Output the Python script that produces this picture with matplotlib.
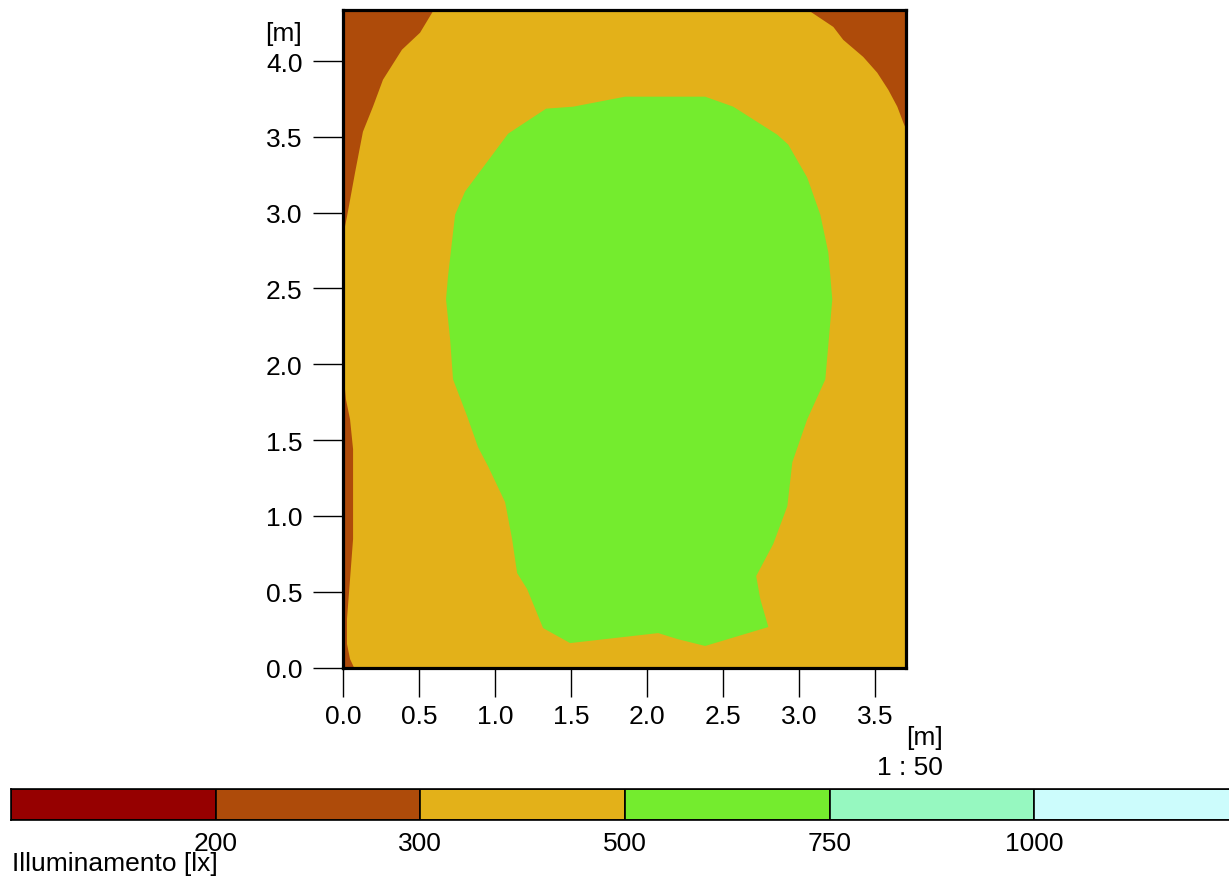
import matplotlib
matplotlib.use("Agg")
import matplotlib.pyplot as plt
import numpy as np

plt.rcParams['font.family'] = ['Liberation Sans', 'DejaVu Sans']

# Room extent [m]
room_w = 3.70
room_h = 4.34

# Isolux classes
level_labels = ["200", "300", "500", "750", "1000"]
level_colors = ["#960000", "#AE4B0A", "#E3B119", "#74EC2E", "#96F8C0", "#CCFCFC"]

# Contour region outlines [m]
# 500-750 lx region
green_x = [1.854, 2.381, 2.566, 2.856, 2.928, 3.053, 3.139, 3.192, 3.218, 3.172,
           3.053, 2.955, 2.922, 2.829, 2.717, 2.744, 2.797, 2.381, 2.197, 2.072,
           1.492, 1.314, 1.209, 1.143, 1.110, 1.064, 0.952, 0.886, 0.814, 0.721,
           0.702, 0.675, 0.688, 0.721, 0.735, 0.800, 1.084, 1.334, 1.512]
green_y = [3.765, 3.765, 3.699, 3.514, 3.449, 3.231, 2.987, 2.737, 2.427, 1.900,
           1.637, 1.354, 1.064, 0.814, 0.603, 0.451, 0.267, 0.142, 0.188, 0.227,
           0.161, 0.260, 0.517, 0.623, 0.847, 1.090, 1.327, 1.453, 1.657, 1.901,
           2.164, 2.428, 2.579, 2.869, 2.987, 3.139, 3.521, 3.686, 3.699]

# 200-300 lx regions
tl_x = [0.0, 0.596, 0.504, 0.385, 0.260, 0.194, 0.128, 0.076, 0.023, 0.003, 0.0]
tl_y = [4.34, 4.34, 4.187, 4.075, 3.877, 3.699, 3.534, 3.264, 2.974, 2.875, 2.87]

left_x = [0.0, 0.016, 0.043, 0.063, 0.063, 0.043, 0.023, 0.023, 0.043, 0.069, 0.0]
left_y = [1.94, 1.769, 1.637, 1.44, 0.847, 0.583, 0.32, 0.155, 0.056, 0.0, 0.0]

tr_x = [3.053, 3.225, 3.290, 3.422, 3.514, 3.587, 3.646, 3.686, 3.70, 3.70]
tr_y = [4.34, 4.225, 4.14, 4.027, 3.923, 3.81, 3.699, 3.593, 3.56, 4.34]

x_ticks = [0.0, 0.5, 1.0, 1.5, 2.0, 2.5, 3.0, 3.5]
y_ticks = [0.0, 0.5, 1.0, 1.5, 2.0, 2.5, 3.0, 3.5, 4.0]

FS = 19
W, H = 1229, 879
fig = plt.figure(figsize=(W / 100, H / 100), dpi=100)

ax = fig.add_axes([343.5 / W, (H - 668.5) / H, (905.5 - 343.5) / W, (668.5 - 10.5) / H])
ax.fill([0, room_w, room_w, 0], [0, 0, room_h, room_h], color=level_colors[2], lw=0)
ax.fill(green_x, green_y, color=level_colors[3], lw=0)
ax.fill(tl_x, tl_y, color=level_colors[1], lw=0)
ax.fill(left_x, left_y, color=level_colors[1], lw=0)
ax.fill(tr_x, tr_y, color=level_colors[1], lw=0)
ax.set_xlim(0, room_w)
ax.set_ylim(0, room_h)
ax.set_xticks(x_ticks)
ax.set_yticks(y_ticks)
ax.set_xticklabels([f"{v:.1f}" for v in x_ticks])
ax.set_yticklabels([f"{v:.1f}" for v in y_ticks])
for s in ax.spines.values():
    s.set_linewidth(2.3)
    s.set_color("black")
ax.tick_params(axis='y', length=21.5, width=1.0, pad=8, labelsize=FS, color='black')
ax.tick_params(axis='x', length=21, width=1.0, pad=5, labelsize=FS, color='black')

fig.text(302 / W, 1 - 34 / H, "[m]", ha='right', va='center', fontsize=FS)
fig.text(943 / W, 1 - 738 / H, "[m]", ha='right', va='center', fontsize=FS)
fig.text(943 / W, 1 - 768 / H, "1 : 50", ha='right', va='center', fontsize=FS)

# Colour scale
cb = fig.add_axes([11 / W, (H - 820.5) / H, (1239 - 11) / W, (820.5 - 790) / H])
cb.bar(np.arange(len(level_colors)), 1, width=1, align='edge', color=level_colors,
       edgecolor='black', linewidth=1.2)
cb.set_xlim(0, len(level_colors))
cb.set_ylim(0, 1)
cb.set_yticks([])
cb.set_xticks(np.arange(1, len(level_colors)))
cb.set_xticklabels(level_labels)
cb.tick_params(axis='x', length=0, pad=8, labelsize=FS)
for s in cb.spines.values():
    s.set_linewidth(1.2)
fig.text(12 / W, 1 - 864 / H, "Illuminamento [lx]", ha='left', va='center', fontsize=FS)

fig.savefig("out.png", dpi=100)
